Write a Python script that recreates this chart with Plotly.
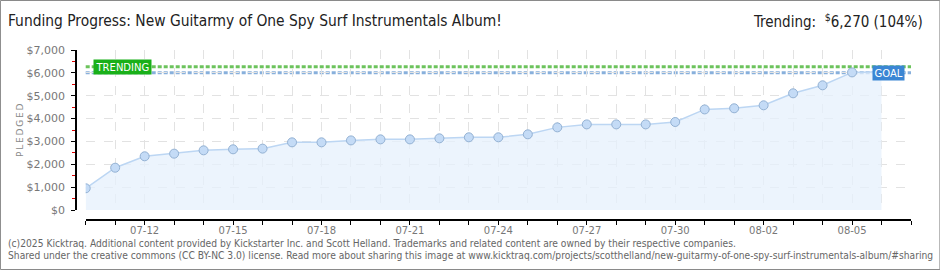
import plotly.graph_objects as go

dates = ["2025-07-10", "2025-07-11", "2025-07-12", "2025-07-13", "2025-07-14", "2025-07-15",
         "2025-07-16", "2025-07-17", "2025-07-18", "2025-07-19", "2025-07-20", "2025-07-21",
         "2025-07-22", "2025-07-23", "2025-07-24", "2025-07-25", "2025-07-26", "2025-07-27",
         "2025-07-28", "2025-07-29", "2025-07-30", "2025-07-31", "2025-08-01", "2025-08-02",
         "2025-08-03", "2025-08-04", "2025-08-05", "2025-08-06"]
pledged = [950, 1850, 2350, 2465, 2610, 2655, 2685, 2960, 2960, 3045, 3090, 3090,
           3135, 3180, 3180, 3310, 3615, 3745, 3745, 3745, 3850, 4400, 4450, 4580,
           5105, 5455, 6020, 6050]
goal = 6000
trending = 6270
x_range = ["2025-07-10", "2025-08-07"]
label_dates = ["2025-07-12", "2025-07-15", "2025-07-18", "2025-07-21", "2025-07-24",
               "2025-07-27", "2025-07-30", "2025-08-02", "2025-08-05"]
label_text = ["07-12", "07-15", "07-18", "07-21", "07-24", "07-27", "07-30", "08-02", "08-05"]
y_ticks = [0, 1000, 2000, 3000, 4000, 5000, 6000, 7000]
y_text = ["$0", "$1,000", "$2,000", "$3,000", "$4,000", "$5,000", "$6,000", "$7,000"]

title = "Funding Progress: New Guitarmy of One Spy Surf Instrumentals Album!"
trend_text = "Trending:  <sup>$</sup>6,270 (104%)"
footer1 = ("(c)2025 Kicktraq. Additional content provided by Kickstarter Inc. and Scott Helland. "
           "Trademarks and related content are owned by their respective companies.")
footer2 = ("Shared under the creative commons (CC BY-NC 3.0) license. Read more about sharing this image at "
           "www.kicktraq.com/projects/scotthelland/new-guitarmy-of-one-spy-surf-instrumentals-album/#sharing")
ylabel = "P\u2009L\u2009E\u2009D\u2009G\u2009E\u2009D"

W, H = 940, 270
L, R_PX, T, B_PX = 76, 910.6, 50, 220
PW, PH = R_PX - L, B_PX - T
def xp(px):
    return (px - L) / PW
def yp(py):
    return (B_PX - py) / PH

FONT = "DejaVu Sans, sans-serif"
COND = "DejaVu Sans Condensed, DejaVu Sans, sans-serif"
GRID = "#e2e2e2"

fig = go.Figure()
fig.add_trace(go.Scatter(
    x=dates, y=pledged, mode="lines+markers",
    fill="tozeroy", fillcolor="rgba(230,240,252,0.75)",
    line=dict(color="#bcd6f3", width=1.5),
    marker=dict(size=9, color="#c4dbf6", line=dict(color="#93b1d3", width=1)),
    hoverinfo="skip", showlegend=False,
))

shapes = [
    dict(type="line", xref="paper", yref="y", x0=xp(85.7), x1=1, y0=trending, y1=trending,
         line=dict(color="#6cc35c", width=3, dash="4px,2px"), layer="below"),
    dict(type="line", xref="paper", yref="y", x0=xp(85.7), x1=1, y0=goal, y1=goal,
         line=dict(color="#88b0dc", width=3, dash="4px,2px"), layer="below"),
    dict(type="rect", xref="paper", yref="paper", x0=xp(0.5), x1=xp(939.5), y0=yp(269.5), y1=yp(0.5),
         line=dict(color="#8a8a8a", width=1), fillcolor="rgba(0,0,0,0)"),
]

annotations = [
    dict(text=title, xref="paper", yref="paper", x=xp(6), y=yp(21), xanchor="left", yanchor="middle",
         showarrow=False, font=dict(family=COND, size=15.4, color="#222")),
    dict(text=trend_text, xref="paper", yref="paper", x=xp(925), y=yp(21), xanchor="right", yanchor="middle",
         showarrow=False, font=dict(family=COND, size=15, color="#222")),
    dict(text=ylabel, xref="paper", yref="paper", x=xp(20), y=yp(130), xanchor="center", yanchor="middle",
         textangle=-90, showarrow=False, font=dict(family=FONT, size=9, color="#888")),
    dict(text="TRENDING", xref="paper", yref="y", x=xp(93), y=trending, xanchor="left", yanchor="middle",
         showarrow=False, bgcolor="#19b019", borderpad=1.5,
         font=dict(family=FONT, size=10, color="#ffffff")),
    dict(text="GOAL", xref="paper", yref="y", x=xp(905), y=goal, xanchor="right", yanchor="middle",
         showarrow=False, bgcolor="#3a86d4", borderpad=1.5,
         font=dict(family=FONT, size=10, color="#ffffff")),
    dict(text=footer1, xref="paper", yref="paper", x=xp(6), y=yp(243), xanchor="left", yanchor="middle",
         showarrow=False, font=dict(family=COND, size=10.2, color="#666")),
    dict(text=footer2, xref="paper", yref="paper", x=xp(6), y=yp(256), xanchor="left", yanchor="middle",
         showarrow=False, font=dict(family=COND, size=10.2, color="#666")),
]

fig.update_layout(
    width=W, height=H,
    margin=dict(l=L, r=W - R_PX, t=T, b=H - B_PX, pad=0),
    paper_bgcolor="white", plot_bgcolor="white",
    shapes=shapes, annotations=annotations,
    xaxis=dict(
        type="date", range=x_range, domain=[xp(85.7), 1], anchor="free", position=0,
        tickmode="array", tickvals=label_dates, ticktext=label_text,
        ticks="outside", ticklen=4, tickcolor="#000", tickwidth=1,
        showline=True, linecolor="#000", linewidth=1.5,
        showgrid=True, gridcolor=GRID, griddash="dash", gridwidth=1,
        minor=dict(dtick=86400000, tick0="2025-07-10", ticks="outside", ticklen=4, tickcolor="#000",
                   showgrid=True, gridcolor=GRID, griddash="dash"),
        tickfont=dict(family=FONT, size=10, color="#777"),
        ticklabelstandoff=-3,
        zeroline=False, fixedrange=True,
    ),
    yaxis=dict(
        range=[0, 7000], domain=[yp(210), 1], anchor="free", position=0,
        tickmode="array", tickvals=y_ticks, ticktext=y_text,
        ticks="outside", ticklen=4, tickcolor="#000", tickwidth=1,
        showline=True, linecolor="#000", linewidth=1.5,
        showgrid=True, gridcolor=GRID, griddash="dash", gridwidth=1,
        minor=dict(dtick=500, ticks="outside", ticklen=3, tickcolor="#e00000", showgrid=False),
        tickfont=dict(family=FONT, size=11, color="#777"),
        ticklabelstandoff=4,
        zeroline=False, fixedrange=True,
    ),
)

fig.write_html("out.html", config={"displayModeBar": False})
